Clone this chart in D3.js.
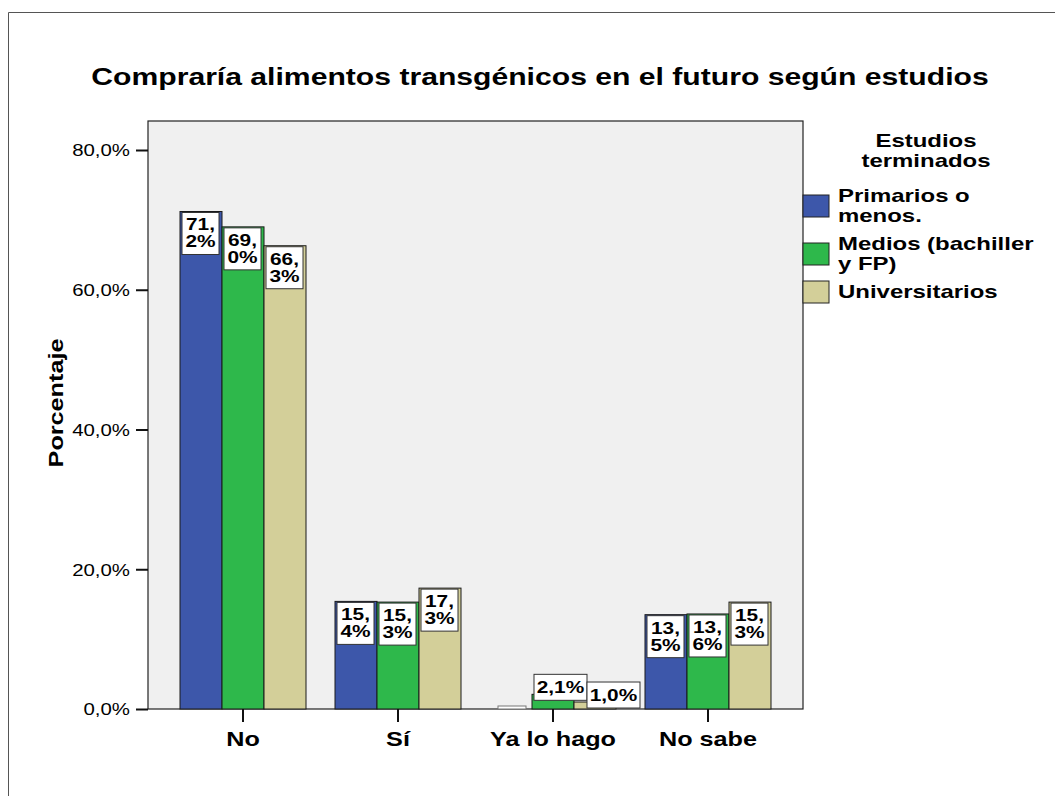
<!DOCTYPE html>
<html>
<head>
<meta charset="utf-8">
<script src="https://cdn.jsdelivr.net/npm/d3@7"></script>
<style>
  body { margin: 0; background: #fff; }
  text { font-family: "Liberation Sans", Arial, sans-serif; fill: #000; }
</style>
</head>
<body>
<div id="chart"></div>
<script>
// data
let categories = ["No", "Sí", "Ya lo hago", "No sabe"];
let groups = ["Primarios o menos.", "Medios (bachiller y FP)", "Universitarios"];
let legendLines = [["Primarios o", "menos."], ["Medios (bachiller", "y FP)"], ["Universitarios"]];
let primarios = [71.2, 15.4, 0.0, 13.5];
let medios = [69.0, 15.3, 2.1, 13.6];
let universitarios = [66.3, 17.3, 1.0, 15.3];
let yTicks = [0, 20, 40, 60, 80];
let colors = ["#3d57aa", "#2eb84b", "#d3cf99"];

let series = [primarios, medios, universitarios];
let STRETCH = 1.2; // the original text is drawn wide

let W = 1055, H = 796;
let plot = {left: 148, right: 803, top: 121, bottom: 709};

let svg = d3.select("#chart")
    .append("svg")
    .attr("width", W)
    .attr("height", H);

// outer frame
svg.append("path")
    .attr("d", "M8.5," + H + "V12.5H" + W)
    .attr("fill", "none")
    .attr("stroke", "#555")
    .attr("stroke-width", 1);

let y = d3.scaleLinear().domain([0, 80]).range([plot.bottom, 150]);
let x = d3.scaleBand().domain(categories)
    .range([plot.left, plot.right])
    .paddingInner(29 / 155)
    .paddingOuter(0.2065);
let xs = d3.scaleBand().domain(d3.range(groups.length)).range([0, x.bandwidth()]);

// plot background
svg.append("rect")
    .attr("x", plot.left).attr("y", plot.top)
    .attr("width", plot.right - plot.left)
    .attr("height", plot.bottom - plot.top)
    .attr("fill", "#f0f0f0")
    .attr("stroke", "#222")
    .attr("stroke-width", 1.2);

// bars
let bars = [];
categories.forEach(function(c, ci){
    series.forEach(function(s, si){
        bars.push({cat: c, ci: ci, si: si, v: s[ci]});
    });
});

svg.append("g")
    .selectAll("rect")
    .data(bars.filter(d => d.v >= 0.5))
    .enter()
    .append("rect")
    .attr("x", d => x(d.cat) + xs(d.si))
    .attr("y", d => y(d.v))
    .attr("width", xs.bandwidth())
    .attr("height", d => y(0) - y(d.v))
    .attr("fill", d => colors[d.si])
    .attr("stroke", "#1a1a1a")
    .attr("stroke-width", 1);

// y axis
let yAxis = svg.append("g")
    .attr("transform", "translate(" + plot.left + ",0)")
    .call(d3.axisLeft(y).tickValues(yTicks).tickSize(12).tickPadding(6)
        .tickFormat(d => d3.format(".1f")(d).replace(".", ",") + "%"));
yAxis.select(".domain").remove();
yAxis.selectAll(".tick line").attr("stroke", "#111").attr("stroke-width", 2);
yAxis.selectAll(".tick text")
    .attr("class", "st")
    .style("font-size", "17px")
    .style("font-family", "'Liberation Sans', Arial, sans-serif")
    .attr("dy", "0.34em");

// x axis
let xAxis = svg.append("g")
    .attr("transform", "translate(0," + plot.bottom + ")")
    .call(d3.axisBottom(x).tickSize(13).tickPadding(8));
xAxis.select(".domain").remove();
xAxis.selectAll(".tick line").attr("stroke", "#111").attr("stroke-width", 2);
xAxis.selectAll(".tick text")
    .attr("class", "st")
    .style("font-size", "21px")
    .style("font-weight", "bold")
    .style("font-family", "'Liberation Sans', Arial, sans-serif")
    .attr("dy", "0.75em");

// value labels
let fmt = v => d3.format(".1f")(v).replace(".", ",") + "%";
let labels = svg.append("g");
let prevRight = {};
bars.forEach(function(d){
    let bx = x(d.cat) + xs(d.si);
    let bw = xs.bandwidth();
    let top = y(d.v);
    let h = y(0) - top;
    let txt = fmt(d.v);
    if (d.v < 0.5) {
        labels.append("rect")
            .attr("x", bx + 8).attr("y", y(0) - 3)
            .attr("width", bw - 14).attr("height", 3)
            .attr("fill", "#fff").attr("stroke", "#777");
        prevRight[d.ci] = bx + bw - 6;
        return;
    }
    if (h >= 46) {
        let parts = [txt.split(",")[0] + ",", txt.split(",")[1]];
        let bl = bx + 2, bwid = bw - 5;
        labels.append("rect")
            .attr("x", bl).attr("y", top + 1)
            .attr("width", bwid).attr("height", 42)
            .attr("fill", "#fff").attr("stroke", "#333");
        parts.forEach(function(p, i){
            labels.append("text")
                .attr("class", "st")
                .attr("data-k", 1.3)
                .attr("x", bl + bwid / 2)
                .attr("y", top + 19 + i * 17)
                .attr("text-anchor", "middle")
                .style("font-size", "16px")
                .style("font-weight", "bold")
                .text(p);
        });
    } else {
        let bl = Math.max(bx + 2, prevRight[d.ci] || 0);
        let bt = top + 6 - 26;
        labels.append("rect")
            .attr("x", bl).attr("y", bt)
            .attr("width", 53).attr("height", 26)
            .attr("fill", "#fff").attr("stroke", "#333");
        labels.append("text")
            .attr("class", "st")
            .attr("data-k", 1.3)
            .attr("x", bl + 26.5)
            .attr("y", bt + 19)
            .attr("text-anchor", "middle")
            .style("font-size", "16px")
            .style("font-weight", "bold")
            .text(txt);
        prevRight[d.ci] = bl + 53;
    }
});

// title
svg.append("text")
    .attr("class", "st")
    .attr("data-k", 1.31)
    .attr("x", 540)
    .attr("y", 85)
    .attr("text-anchor", "middle")
    .style("font-size", "23px")
    .style("font-weight", "bold")
    .text("Compraría alimentos transgénicos en el futuro según estudios");

// y label
svg.append("text")
    .attr("class", "st")
    .attr("transform", "translate(63,403)rotate(-90)")
    .attr("text-anchor", "middle")
    .style("font-size", "21px")
    .style("font-weight", "bold")
    .text("Porcentaje");

// legend
let legend = svg.append("g");
["Estudios", "terminados"].forEach(function(t, i){
    legend.append("text")
        .attr("class", "st")
        .attr("data-k", 1.26)
        .attr("x", 926)
        .attr("y", 147 + i * 20)
        .attr("text-anchor", "middle")
        .style("font-size", "19px")
        .style("font-weight", "bold")
        .text(t);
});

let ly = 202;
legendLines.forEach(function(lines, gi){
    let first = ly;
    lines.forEach(function(l){
        legend.append("text")
            .attr("class", "st")
            .attr("data-k", 1.26)
            .attr("x", 838)
            .attr("y", ly)
            .style("font-size", "19px")
            .style("font-weight", "bold")
            .text(l);
        ly += 20;
    });
    let last = ly - 20;
    let mid = (first - 12 + last) / 2;
    legend.append("rect")
        .attr("x", plot.right)
        .attr("y", mid - 11)
        .attr("width", 26)
        .attr("height", 22)
        .attr("fill", colors[gi])
        .attr("stroke", "#222")
        .attr("stroke-width", 1);
    ly += 8;
});

// widen all text like the original rendering
svg.selectAll(".st").each(function(){
    let k = +(this.getAttribute("data-k") || STRETCH);
    let len = this.getComputedTextLength();
    d3.select(this)
        .attr("textLength", len * k)
        .attr("lengthAdjust", "spacingAndGlyphs");
});
</script>
</body>
</html>
